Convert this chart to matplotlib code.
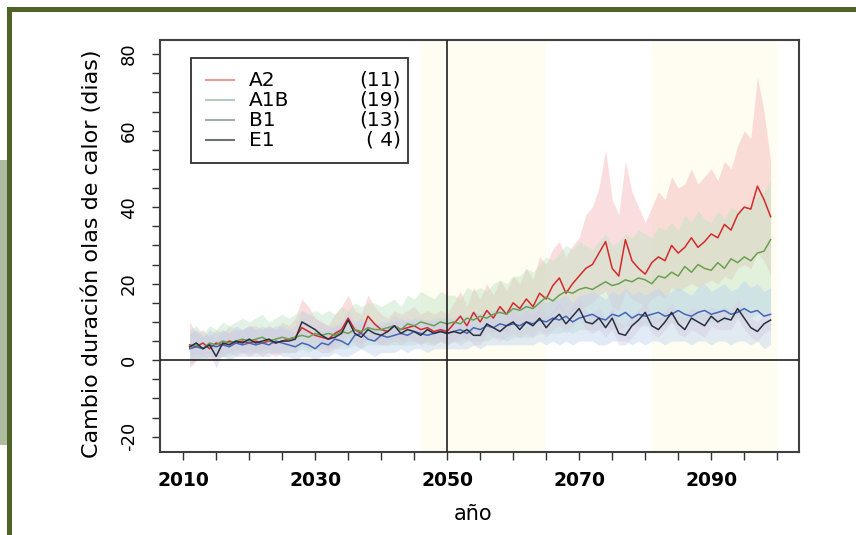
import numpy as np
import matplotlib.pyplot as plt
from matplotlib.patches import Rectangle

# years of the simulations
years = np.arange(2011, 2100)

# ensemble means (days)
a2 = [4.0, 3.5, 4.5, 3.0, 4.5, 4.0, 5.0, 4.5, 5.0, 4.5,
      5.0, 4.5, 5.0, 4.5, 5.0, 5.5, 6.0, 8.5, 7.5, 6.5,
      6.0, 5.5, 7.0, 8.0, 11.0, 8.0, 7.0, 11.5, 9.5, 8.0,
      7.5, 9.0, 8.0, 8.5, 9.0, 8.0, 8.5, 7.5, 8.0, 7.5,
      9.5, 11.5, 9.0, 12.5, 10.0, 13.0, 11.0, 14.0, 12.0, 15.0,
      13.5, 16.0, 14.0, 17.5, 16.0, 19.5, 21.5, 17.5, 20.0, 22.0,
      24.0, 25.0, 28.0, 31.0, 24.0, 22.0, 31.5, 26.0, 24.0, 22.5,
      25.5, 27.0, 26.0, 30.0, 28.0, 29.5, 32.0, 29.5, 31.0, 33.0,
      32.0, 35.5, 34.0, 38.0, 40.0, 39.5, 45.5, 42.0, 37.5]
a1b = [3.5, 4.0, 3.0, 4.5, 4.0, 5.0, 4.5, 5.0, 5.5, 5.0,
       5.5, 6.0, 5.0, 5.5, 6.0, 5.5, 6.0, 6.5, 6.0, 7.0,
       6.5, 7.0, 6.5, 7.5, 7.0, 8.0, 7.5, 8.5, 8.0, 8.0,
       8.5, 9.0, 8.0, 9.5, 9.0, 10.0, 9.5, 9.0, 10.0, 9.5,
       10.0, 9.5, 11.0, 10.5, 11.5, 11.0, 12.0, 12.5, 12.0, 13.5,
       13.0, 14.0, 13.5, 15.0, 16.5, 15.5, 17.0, 18.0, 17.5, 18.5,
       19.0, 18.5, 19.5, 20.5, 19.5, 20.0, 21.0, 20.5, 21.5, 21.0,
       20.0, 22.0, 21.5, 23.0, 22.0, 24.5, 23.0, 25.0, 24.0, 23.5,
       25.5, 24.0, 26.5, 25.5, 27.0, 26.0, 28.0, 28.5, 31.5]
b1 = [3.0, 3.5, 3.0, 4.0, 3.5, 4.0, 3.5, 4.5, 4.0, 4.5,
      4.0, 4.5, 4.0, 5.0, 4.5, 4.0, 3.5, 4.5, 4.0, 3.0,
      4.5, 4.0, 5.5, 5.0, 4.0, 6.5, 7.0, 5.5, 5.0, 6.5,
      6.0, 6.5, 7.0, 6.5, 7.5, 7.0, 6.5, 7.0, 7.5, 7.0,
      7.5, 8.0, 7.0, 8.5, 8.0, 9.0, 8.5, 9.5, 9.0, 9.5,
      9.0, 10.0, 9.5, 10.5, 10.0, 11.0, 10.5, 11.5, 10.0, 11.0,
      11.5, 12.0, 11.0, 10.5, 12.0, 11.5, 12.5, 11.0, 12.0, 11.5,
      12.0, 12.5, 11.5, 12.0, 13.0, 12.0, 11.5, 12.5, 13.0, 12.0,
      12.5, 13.0, 12.0, 12.5, 13.5, 12.5, 13.0, 11.5, 12.0]
e1 = [3.5, 4.5, 3.0, 4.0, 1.0, 4.5, 4.0, 5.0, 4.5, 5.5,
      4.5, 5.0, 5.5, 4.5, 5.0, 5.0, 5.5, 10.0, 9.0, 8.0,
      6.5, 5.5, 6.0, 7.0, 10.5, 7.0, 6.0, 8.0, 7.0, 6.5,
      7.5, 9.0, 7.0, 8.0, 7.5, 6.5, 8.0, 7.0, 7.5, 7.0,
      7.5, 7.0, 8.0, 6.5, 6.5, 9.5, 8.5, 7.5, 9.0, 10.0,
      8.0, 10.0, 9.0, 11.0, 8.5, 10.5, 12.0, 9.5, 11.5, 13.5,
      10.0, 9.5, 11.0, 8.5, 11.0, 7.0, 6.5, 9.0, 10.5, 12.5,
      9.0, 8.0, 10.0, 12.5, 9.5, 8.0, 11.0, 10.0, 9.0, 11.5,
      10.0, 11.0, 10.5, 13.5, 11.0, 8.5, 7.5, 9.5, 10.5]

# ensemble spread (min / max)
a2_hi = [10, 7, 8, 6, 8, 7, 9, 8, 8, 9,
         9, 8, 9, 8, 10, 9, 11, 16, 14, 11,
         10, 9, 12, 14, 17, 13, 12, 17, 14, 12,
         11, 13, 12, 13, 14, 12, 13, 12, 13, 12,
         15, 18, 14, 19, 16, 20, 17, 21, 18, 22,
         20, 24, 21, 27, 25, 29, 31, 27, 30, 32,
         38, 40, 45, 55, 42, 38, 52, 44, 40, 36,
         40, 44, 42, 48, 45, 46, 50, 46, 48, 50,
         47, 52, 50, 56, 60, 58, 74, 65, 52]
a2_lo = [-2, 0, 1, 0, 1, 1, 2, 1, 2, 1,
         2, 1, 2, 1, 2, 2, 2, 4, 3, 3,
         2, 2, 3, 4, 6, 4, 3, 6, 5, 4,
         4, 5, 4, 5, 5, 4, 5, 4, 5, 4,
         5, 7, 5, 8, 6, 8, 7, 9, 7, 10,
         9, 10, 9, 11, 10, 12, 14, 11, 13, 14,
         14, 15, 17, 18, 14, 13, 18, 16, 15, 14,
         16, 17, 16, 19, 18, 19, 20, 19, 20, 21,
         20, 22, 21, 24, 25, 24, 28, 26, 22]
a1b_hi = [8, 9, 7, 9, 8, 10, 9, 10, 11, 10,
          11, 12, 10, 11, 12, 11, 12, 13, 12, 13,
          12, 13, 12, 14, 13, 15, 14, 15, 15, 14,
          15, 16, 14, 17, 16, 18, 17, 16, 18, 17,
          17, 16, 19, 18, 19, 18, 20, 21, 20, 22,
          22, 24, 23, 25, 27, 26, 28, 30, 29, 31,
          30, 29, 31, 33, 30, 31, 33, 32, 34, 33,
          32, 35, 34, 36, 34, 38, 36, 39, 37, 36,
          39, 37, 40, 39, 41, 40, 43, 44, 47]
a1b_lo = [0, 1, 0, 1, 1, 1, 1, 2, 2, 2,
          2, 2, 2, 2, 2, 2, 2, 3, 2, 3,
          3, 3, 3, 3, 3, 4, 3, 4, 4, 4,
          4, 4, 4, 4, 4, 5, 4, 4, 5, 4,
          5, 4, 5, 5, 5, 5, 6, 6, 5, 6,
          6, 6, 6, 7, 7, 7, 7, 8, 7, 8,
          8, 8, 8, 9, 8, 8, 9, 9, 9, 9,
          9, 10, 9, 10, 9, 10, 10, 11, 10, 10,
          11, 10, 11, 11, 12, 11, 12, 12, 13]
b1_hi = [7, 8, 6, 8, 7, 8, 7, 9, 8, 9,
         8, 9, 8, 9, 9, 8, 7, 8, 8, 7,
         8, 8, 9, 9, 8, 10, 11, 9, 9, 10,
         10, 10, 11, 10, 11, 11, 10, 11, 11, 11,
         11, 12, 11, 13, 12, 13, 13, 14, 13, 14,
         14, 15, 14, 16, 15, 16, 16, 17, 15, 17,
         17, 18, 17, 16, 18, 17, 19, 17, 18, 17,
         18, 19, 17, 18, 19, 18, 17, 19, 20, 18,
         19, 20, 18, 19, 21, 19, 20, 18, 19]
b1_lo = [-1, 0, 0, 1, 0, 1, 0, 1, 1, 1,
         1, 1, 1, 2, 1, 1, 0, 1, 1, 0,
         1, 1, 2, 1, 1, 2, 3, 2, 1, 2,
         2, 2, 3, 2, 3, 3, 2, 3, 3, 3,
         3, 3, 3, 4, 3, 4, 4, 4, 4, 4,
         4, 4, 4, 5, 4, 5, 4, 5, 4, 5,
         5, 5, 4, 4, 5, 5, 5, 4, 5, 4,
         5, 5, 4, 5, 5, 5, 4, 5, 5, 4,
         5, 5, 4, 5, 5, 4, 5, 3, 4]
e1_hi = [7, 8, 6, 7, 5, 8, 7, 8, 8, 9,
         8, 8, 9, 8, 8, 8, 9, 13, 12, 11,
         10, 9, 9, 10, 13, 10, 9, 11, 10, 9,
         10, 12, 10, 11, 10, 9, 11, 10, 10, 10,
         10, 10, 11, 9, 9, 12, 11, 10, 12, 13,
         11, 13, 12, 14, 11, 13, 15, 12, 14, 16,
         13, 12, 14, 11, 14, 10, 9, 12, 13, 15,
         12, 11, 13, 15, 12, 11, 14, 13, 12, 14,
         13, 14, 13, 16, 14, 11, 10, 12, 13]
e1_lo = [1, 2, 1, 2, -2, 2, 2, 3, 2, 3,
         2, 3, 3, 2, 3, 3, 3, 7, 6, 5,
         4, 3, 4, 5, 8, 5, 4, 6, 5, 4,
         5, 6, 5, 6, 5, 4, 6, 5, 5, 5,
         5, 5, 6, 4, 4, 7, 6, 5, 6, 7,
         6, 7, 6, 8, 6, 8, 9, 7, 9, 11,
         8, 7, 8, 6, 8, 4, 4, 6, 8, 10,
         7, 6, 8, 10, 7, 6, 8, 7, 6, 9,
         8, 8, 8, 11, 8, 6, 5, 7, 8]

scen = ['A2', 'A1B', 'B1', 'E1']
n_models = ['(11)', '(19)', '(13)', '( 4)']
periods = [(2046, 2065), (2081, 2100)]
xticks = [2010, 2030, 2050, 2070, 2090]
yticks = [-20, 0, 20, 40, 60, 80]

fig = plt.figure(figsize=(8.56, 5.35), dpi=100)

# slide decoration
fig.patches.append(Rectangle((0, 1 - 445/535), 7/856, 285/535, transform=fig.transFigure,
                             facecolor='#aebc9f', edgecolor='none', zorder=0))
fig.patches.append(Rectangle((7/856, 0), 5/856, 1 - 7/535, transform=fig.transFigure,
                             facecolor='#4f6228', edgecolor='none', zorder=1))
fig.patches.append(Rectangle((7/856, 1 - 12/535), 1, 5/535, transform=fig.transFigure,
                             facecolor='#4f6228', edgecolor='none', zorder=1))

ax = fig.add_axes([160/856, 1 - 452/535, 639/856, 412/535])

for p0, p1 in periods:
    ax.axvspan(p0, p1, color='#fffdf1', lw=0, zorder=0)

bands = [(a2_lo, a2_hi, '#f5b5b8'), (a1b_lo, a1b_hi, '#bfe3c4'),
         (b1_lo, b1_hi, '#bcd3ef'), (e1_lo, e1_hi, '#d6cde3')]
for lo, hi, c in bands:
    ax.fill_between(years, lo, hi, color=c, alpha=0.45, lw=0, zorder=1)

lines = [(a2, '#d42a2a'), (a1b, '#6aa050'), (b1, '#4566b8'), (e1, '#283040')]
for vals, c in lines:
    ax.plot(years, vals, color=c, lw=1.1, zorder=3)

ax.axvline(2050, color='#202020', lw=1.2, zorder=4)
ax.axhline(0, color='#202020', lw=1.2, zorder=4)

ax.set_xlim(2006.5, 2103.3)
ax.set_ylim(-24, 83.7)
ax.set_xticks(xticks)
ax.set_xticks(np.arange(2010, 2101, 5), minor=True)
ax.set_yticks(yticks, labels=[str(v) for v in yticks])
ax.set_yticks(np.arange(-20, 81, 5), minor=True)
ax.tick_params(which='both', direction='out', length=6, width=1, color='#303030')
ax.tick_params(axis='x', labelsize=13.5, pad=8)
ax.tick_params(axis='y', labelsize=13, pad=10, labelrotation=90)
for lab in ax.get_yticklabels():
    lab.set_va('center')
for lab in ax.get_xticklabels():
    lab.set_fontweight('bold')
for s in ax.spines.values():
    s.set_color('#404040')
    s.set_linewidth(1.5)

ax.set_xlabel('año', fontsize=15)
ax.xaxis.set_label_coords((473 - 160) / 639, -0.125)
ax.set_ylabel('Cambio duración olas de calor (dias)', fontsize=16)
ax.yaxis.set_label_coords(-0.09, 0.48)

# legend box drawn by hand so the model counts line up on the right
ax_w, ax_h = 639, 412
def axx(px):
    return (px - 160) / ax_w
def axy(py):
    return (452 - py) / ax_h

ax.add_patch(Rectangle((axx(191), axy(163)), (408 - 191) / ax_w, (163 - 58) / ax_h,
                       transform=ax.transAxes, facecolor='white', edgecolor='#303030',
                       lw=1.3, zorder=5))
leg_cols = ['#e89a9c', '#b4cdbb', '#a5aba5', '#6d7075']
for i, (name, nm, c) in enumerate(zip(scen, n_models, leg_cols)):
    yy = axy(80 + 20 * i)
    ax.plot([axx(206), axx(234)], [yy, yy], transform=ax.transAxes, color=c, lw=1.5, zorder=6)
    ax.text(axx(249), yy, name, transform=ax.transAxes, fontsize=14.5, va='center', zorder=6)
    ax.text(axx(401), yy, nm, transform=ax.transAxes, fontsize=14.5, va='center', ha='right', zorder=6)

fig.savefig('out.png', dpi=100)
